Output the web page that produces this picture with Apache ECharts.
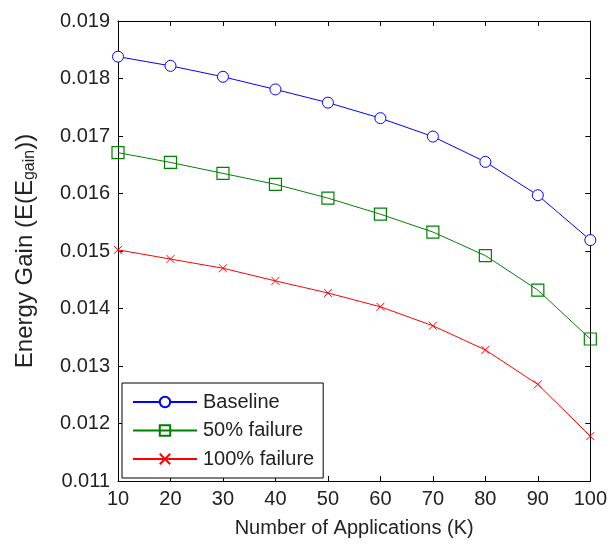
<!DOCTYPE html>
<html><head><meta charset="utf-8">
<script src="https://cdn.jsdelivr.net/npm/echarts@6/dist/echarts.min.js"></script>
<style>html,body{margin:0;padding:0;background:#fff}#c{width:610px;height:545px}</style>
</head><body><div id="c"></div>
<script>
const xValues = [10, 20, 30, 40, 50, 60, 70, 80, 90, 100];
const baseline = [0.01838, 0.01822, 0.01803, 0.01781, 0.01758, 0.01731, 0.01699, 0.01655, 0.01597, 0.01519];
const fail50 = [0.01671, 0.01654, 0.01635, 0.01616, 0.01592, 0.01564, 0.01533, 0.01492, 0.01432, 0.01347];
const fail100 = [0.01502, 0.01486, 0.01470, 0.01448, 0.01427, 0.01403, 0.01370, 0.01328, 0.01268, 0.01178];
const seriesNames = ['Baseline', '50% failure', '100% failure'];

const font = 'Liberation Sans, Arial, sans-serif';
const txt = '#222';
const chart = echarts.init(document.getElementById('c'), null, {renderer: 'canvas'});
const pair = v => xValues.map((x, i) => [x, v[i]]);
const axisCommon = {
  axisLine: {show: true, onZero: false, lineStyle: {color: '#000', width: 1}},
  axisTick: {show: true, inside: true, length: 5, lineStyle: {color: '#000'}},
  splitLine: {show: false}
};
chart.setOption({
  animation: false,
  grid: {left: 118, right: 16, top: 21, bottom: 64},
  xAxis: [
    Object.assign({type: 'value', min: 10, max: 100, interval: 10, position: 'bottom',
      name: 'Number of Applications (K)', nameLocation: 'middle', nameGap: 37,
      nameTextStyle: {fontFamily: font, fontSize: 20, color: txt},
      axisLabel: {fontFamily: font, fontSize: 20, color: txt, margin: 8}}, axisCommon),
    Object.assign({type: 'value', min: 10, max: 100, interval: 10, position: 'top',
      axisLabel: {show: false}}, axisCommon)
  ],
  yAxis: [
    Object.assign({type: 'value', min: 0.011, max: 0.019, interval: 0.001, position: 'left',
      name: 'Energy Gain (E(E{sub|gain}))', nameLocation: 'middle', nameGap: 80, nameRotate: 90,
      nameTextStyle: {fontFamily: font, fontSize: 24, color: txt,
        rich: {sub: {fontFamily: font, fontSize: 16, color: txt, verticalAlign: 'bottom', padding: [10, 0, 0, 0]}}},
      axisLabel: {fontFamily: font, fontSize: 20, color: txt, margin: 8, formatter: v => v.toFixed(3)}}, axisCommon),
    Object.assign({type: 'value', min: 0.011, max: 0.019, interval: 0.001, position: 'right',
      axisLabel: {show: false}}, axisCommon)
  ],
  legend: {
    orient: 'vertical', left: 122, top: 383,
    data: seriesNames,
    itemWidth: 64, itemHeight: 13, itemGap: 8.5,
    padding: [9, 9, 9, 10],
    borderColor: '#000', borderWidth: 1, backgroundColor: '#fff',
    textStyle: {fontFamily: font, fontSize: 20, color: txt, padding: [0, 0, 0, 1]}
  },
  series: [
    {name: seriesNames[0], type: 'line', data: pair(baseline), symbol: 'circle', symbolSize: 11,
      lineStyle: {color: '#0000ff', width: 1}, itemStyle: {color: '#fff', borderColor: '#0000ff', borderWidth: 1}},
    {name: seriesNames[1], type: 'line', data: pair(fail50), symbol: 'rect', symbolSize: 12,
      lineStyle: {color: '#008000', width: 1}, itemStyle: {color: 'rgba(255,255,255,0)', borderColor: '#008000', borderWidth: 1.2}},
    {name: seriesNames[2], type: 'line', data: pair(fail100), symbol: 'path://M0,0L10,10M10,0L0,10', symbolSize: 8,
      lineStyle: {color: '#ff0000', width: 1}, itemStyle: {color: 'rgba(255,255,255,0)', borderColor: '#ff0000', borderWidth: 1}}
  ]
});
</script></body></html>
